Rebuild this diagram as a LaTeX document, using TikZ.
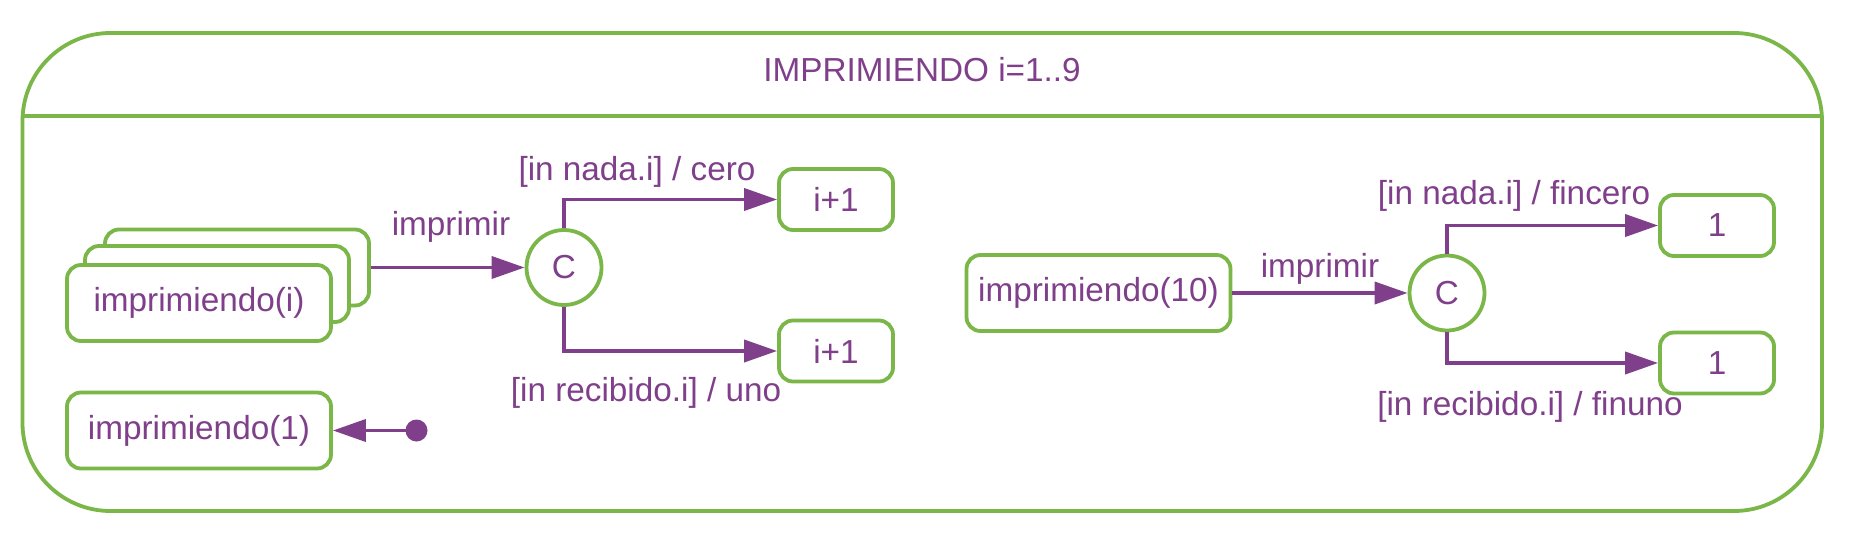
\documentclass[tikz,border=0pt]{standalone}
\usepackage{fontspec}
\setmainfont{Liberation Sans}
\usetikzlibrary{arrows.meta}
\definecolor{sgreen}{HTML}{7AB648}
\definecolor{spurple}{HTML}{7F3F8A}
\tikzset{
  base/.style={font=\fontsize{33.3}{40}\selectfont, text=spurple},
  state/.style={base, draw=sgreen, line width=3.8pt, rounded corners=14pt, fill=white, minimum width=264pt, minimum height=76pt, inner sep=0pt},
  small/.style={state, minimum width=114pt, minimum height=61pt},
  choice/.style={base, draw=sgreen, line width=3.8pt, circle, fill=white, minimum size=75pt, inner sep=0pt},
  conn/.style={draw=spurple, line width=3.8pt, -{Triangle[length=33pt,width=22pt]}},
  lbl/.style={base, inner sep=0pt},
}
\begin{document}
\begin{tikzpicture}[x=1pt,y=-1pt]
\useasboundingbox (0,0) rectangle (1858,551);
% container
\node[draw=sgreen, line width=3.8pt, rounded corners=88pt, minimum width=1799.5pt, minimum height=478pt, inner sep=0pt] (outer) at (922.25,272) {};
\draw[sgreen, line width=3.8pt] (22.5,116) -- (1822,116);
\node[lbl] (title) at (922,70) {IMPRIMIENDO i=1..9};
% left part
\node[state] (s3) at (237,267.5) {};
\node[state] (s2) at (217,284) {};
\node[state] (s1) at (199,303) {imprimiendo(i)};
\node[choice] (c1) at (564,267.5) {C};
\node[small] (b1) at (836,199.5) {i+1};
\node[small] (b2) at (836,351) {i+1};
\node[state] (i1) at (199,430.5) {imprimiendo(1)};
\node[circle, fill=spurple, minimum size=22pt, inner sep=0pt] (init) at (416.5,430.5) {};
\draw[conn] (s3.east) -- (c1.west);
\draw[conn] (c1.north) |- (b1.west);
\draw[conn] (c1.south) |- (b2.west);
\draw[conn] (init.center) -- (i1.east);
\node[lbl] (l1) at (451,227) {imprimir};
\node[lbl] (l2) at (637,172) {[in nada.i] / cero};
\node[lbl] (l3) at (646,393) {[in recibido.i] / uno};
% right part
\node[state] (i10) at (1098.5,293) {imprimiendo(10)};
\node[choice] (c2) at (1447,293) {C};
\node[small] (r1) at (1717,225.5) {1};
\node[small] (r2) at (1717,363) {1};
\draw[conn] (i10.east) -- (c2.west);
\draw[conn] (c2.north) |- (r1.west);
\draw[conn] (c2.south) |- (r2.west);
\node[lbl] (l4) at (1320,269) {imprimir};
\node[lbl] (l5) at (1514,196) {[in nada.i] / fincero};
\node[lbl] (l6) at (1530,407) {[in recibido.i] / finuno};
\end{tikzpicture}
\end{document}
